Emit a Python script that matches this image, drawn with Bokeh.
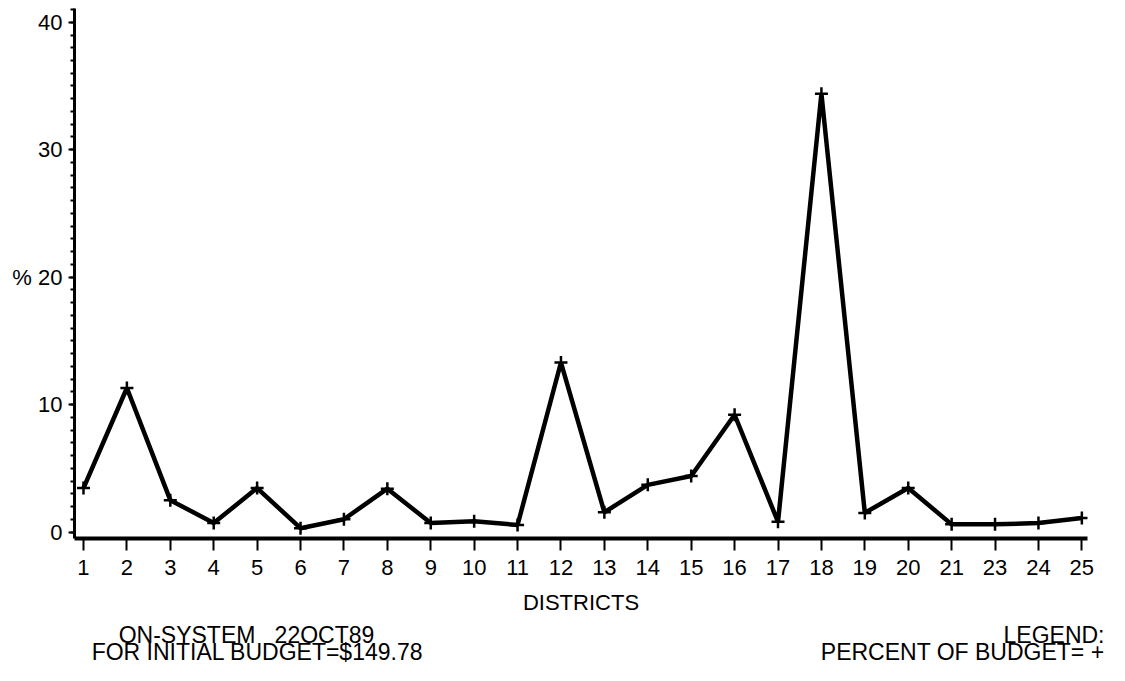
from bokeh.plotting import figure
from bokeh.models import Range1d, FixedTicker, SingleIntervalTicker, Label
from bokeh.layouts import column, row
from bokeh.embed import file_html
from bokeh.resources import INLINE

# ---- data ----
districts = ["1", "2", "3", "4", "5", "6", "7", "8", "9", "10", "11", "12",
             "13", "14", "15", "16", "17", "18", "19", "20", "21", "23", "24", "25"]
percent_of_budget = [3.45, 11.3, 2.5, 0.7, 3.45, 0.3, 1.0, 3.4, 0.7, 0.85, 0.55, 13.3,
                     1.55, 3.7, 4.4, 9.2, 0.8, 34.4, 1.5, 3.45, 0.6, 0.6, 0.7, 1.1]
y_tick_values = [0, 10, 20, 30, 40]
y_tick_labels = ["0", "10", "% 20", "30", "40"]
x_title = "DISTRICTS"
footer_left = ["ON-SYSTEM\u00a0\u00a0\u00a022OCT89", "FOR INITIAL BUDGET=$149.78"]
footer_right = ["LEGEND:", "PERCENT OF BUDGET= +"]

FONT = "Liberation Sans"
FS = "22px"
FS_FOOT = "23px"
W = 1109
H_MAIN = 617
H_FOOT = 48
LEFT, RIGHT = 74, 1087

xpos = list(range(len(districts)))

p = figure(width=W, height=H_MAIN, output_backend="svg", toolbar_location=None,
           x_range=Range1d(-0.207, 23.13), y_range=Range1d(-0.51, 41.08),
           min_border_left=LEFT, min_border_right=W - RIGHT, min_border_top=8,
           min_border_bottom=H_MAIN - 538)
p.outline_line_color = None
p.grid.visible = False
p.background_fill_color = "white"
p.border_fill_color = "white"

# x axis
xa = p.xaxis[0]
xa.ticker = FixedTicker(ticks=xpos, minor_ticks=[])
xa.major_label_overrides = {i: d for i, d in zip(xpos, districts)}
xa.axis_line_width = 4
xa.axis_line_color = "black"
xa.major_tick_line_width = 2
xa.major_tick_out = 12
xa.major_tick_in = 0
xa.minor_tick_out = 0
xa.major_label_standoff = 9
xa.major_label_text_font = FONT
xa.major_label_text_font_size = FS
xa.major_label_text_color = "black"
xa.axis_label = x_title
xa.axis_label_text_font = FONT
xa.axis_label_text_font_size = FS
xa.axis_label_text_font_style = "normal"
xa.axis_label_text_color = "black"
xa.axis_label_standoff = 12

# y axis
ya = p.yaxis[0]
ya.ticker = SingleIntervalTicker(interval=10, num_minor_ticks=10)
ya.major_label_overrides = {v: t for v, t in zip(y_tick_values, y_tick_labels)}
ya.axis_line_width = 3
ya.axis_line_color = "black"
ya.major_tick_line_width = 2
ya.major_tick_out = 6
ya.major_tick_in = 0
ya.minor_tick_line_width = 2
ya.minor_tick_out = 4
ya.minor_tick_in = 0
ya.major_label_standoff = 6
ya.major_label_text_font = FONT
ya.major_label_text_font_size = FS
ya.major_label_text_color = "black"

# series
p.line(xpos, percent_of_budget, line_width=4.5, color="black")
p.scatter(xpos, percent_of_budget, marker="cross", size=13, line_width=2.5, color="black")

# footer strip below the chart; x data = pixels from its left, y = pixels from its top
f = figure(width=W, height=H_FOOT, output_backend="svg", toolbar_location=None,
           x_range=Range1d(0, W), y_range=Range1d(H_FOOT, 0),
           min_border=0, x_axis_location=None, y_axis_location=None)
f.outline_line_color = None
f.grid.visible = False
for xx, yy, t in zip([246, 257], [17, 34], footer_left):
    f.add_layout(Label(x=xx, y=yy, text=t, text_align="center", text_baseline="alphabetic",
                       text_font=FONT, text_font_size=FS_FOOT, text_color="black"))
for yy, t in zip([17, 34], footer_right):
    f.add_layout(Label(x=1104, y=yy, text=t, text_align="right", text_baseline="alphabetic",
                       text_font=FONT, text_font_size=FS_FOOT, text_color="black"))

layout = column(p, row(f), spacing=0)
open("out.html", "w").write(file_html(layout, INLINE))
